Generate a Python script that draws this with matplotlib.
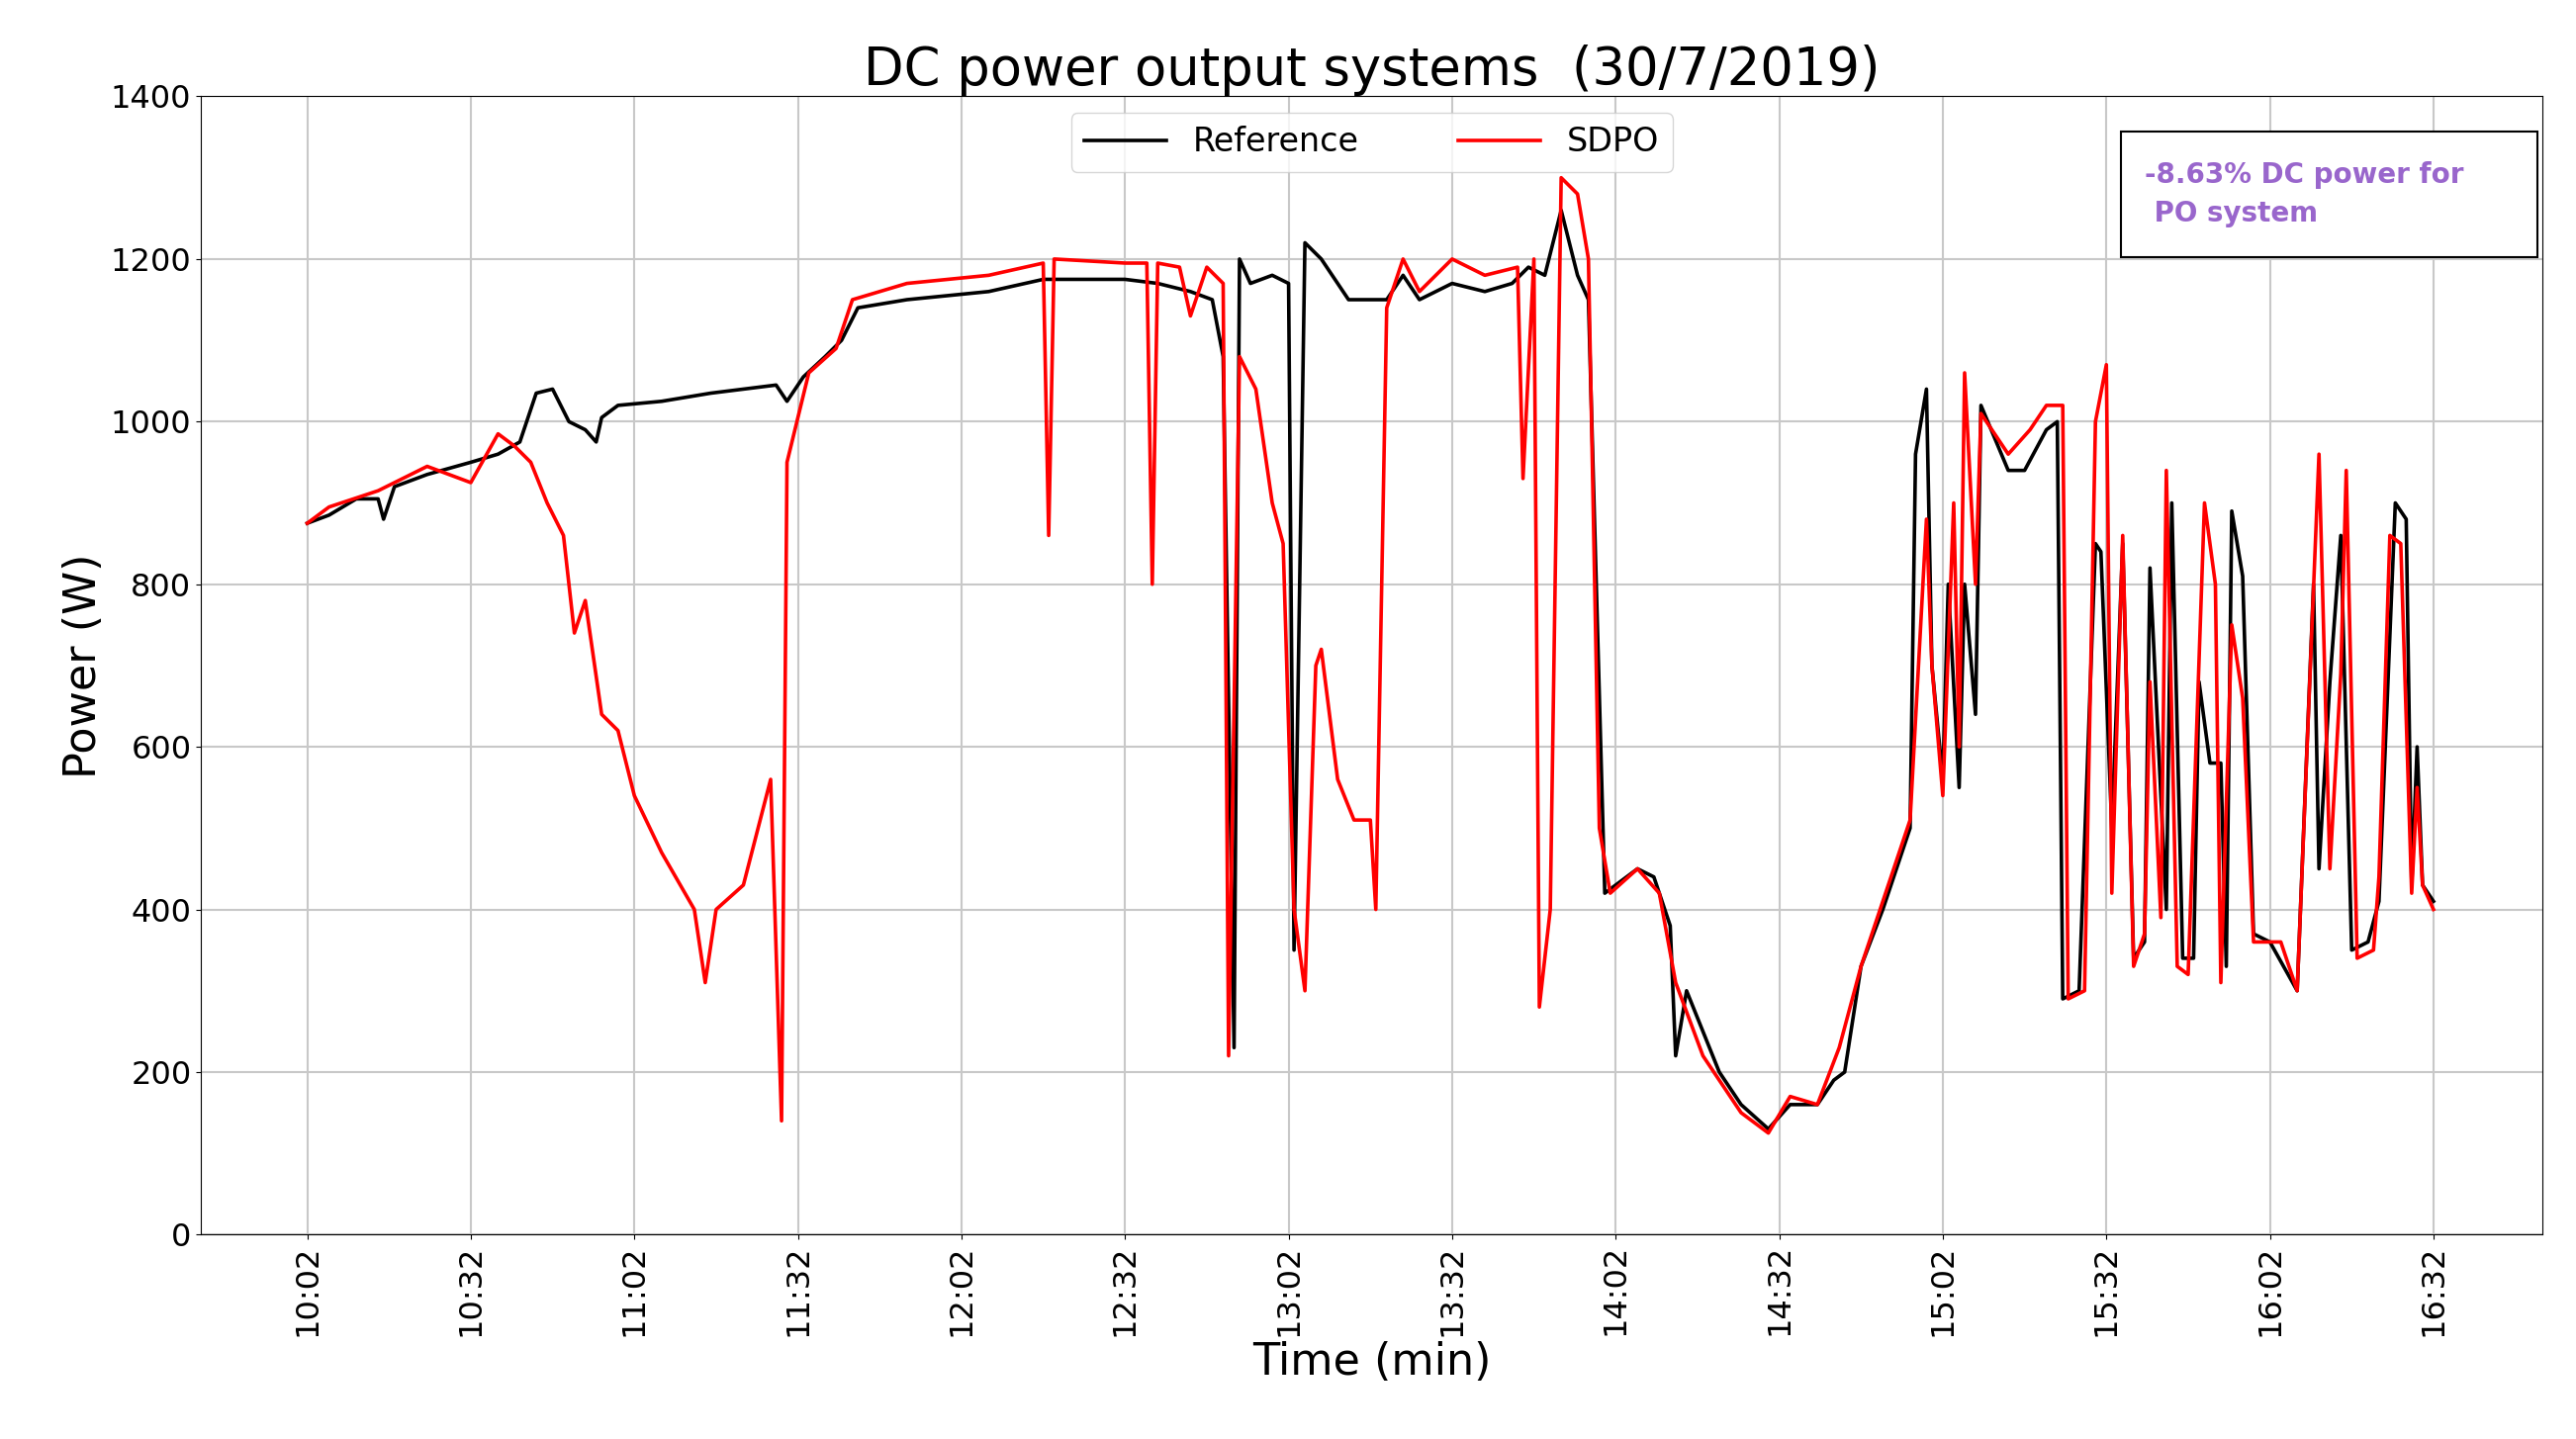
import matplotlib
matplotlib.use("Agg")
import matplotlib.pyplot as plt
from matplotlib.patches import Rectangle

# minutes after 10:02
ref_t = [0,4,9,13,14,16,22,30,35,39,42,45,48,51,53,54,57,65,74,80,86,88,91,95,98,101,110,125,135,150,156,162,166,168,170,171,173,177,180,181,183,186,191,198,201,204,210,216,221,224,227,230,233,235,238,244,247,250,251,253,259,263,268,272,277,280,282,285,289,294,295,297,298,300,301,303,304,306,307,312,315,319,321,322,325,328,329,331,333,335,337,338,341,342,344,346,347,349,351,352,353,355,357,360,365,368,369,371,373,375,378,380,383,385,386,387,388,390]
ref_p = [875,885,905,905,880,920,935,950,960,975,1035,1040,1000,990,975,1005,1020,1025,1035,1040,1045,1025,1055,1080,1100,1140,1150,1160,1175,1175,1170,1160,1150,1080,230,1200,1170,1180,1170,350,1220,1200,1150,1150,1180,1150,1170,1160,1170,1190,1180,1260,1180,1150,420,450,440,380,220,300,200,160,130,160,160,190,200,330,400,500,960,1040,700,560,800,550,800,640,1020,940,940,990,1000,290,300,850,840,500,850,340,360,820,400,900,340,340,680,580,580,330,890,810,370,360,300,800,450,680,860,350,360,410,900,880,430,600,430,410]
sdpo_t = [0,4,13,22,30,35,38,41,44,47,49,51,54,57,60,65,71,73,75,80,85,87,88,92,97,100,110,125,135,136,137,150,154,155,156,160,162,165,168,169,171,174,177,179,181,183,185,186,189,192,195,196,198,201,204,210,216,222,223,225,226,228,230,233,235,237,239,244,248,251,256,263,268,272,277,281,285,289,294,297,298,300,302,303,304,306,307,312,316,319,322,323,326,328,330,331,333,335,337,338,340,341,343,345,348,350,351,353,355,357,362,365,369,371,373,374,376,379,380,382,384,386,387,388,390]
sdpo_p = [875,895,915,945,925,985,970,950,900,860,740,780,640,620,540,470,400,310,400,430,560,140,950,1060,1090,1150,1170,1180,1195,860,1200,1195,1195,800,1195,1190,1130,1190,1170,220,1080,1040,900,850,400,300,700,720,560,510,510,400,1140,1200,1160,1200,1180,1190,930,1200,280,400,1300,1280,1200,500,420,450,420,310,220,150,125,170,160,230,330,410,510,880,700,540,900,600,1060,800,1010,960,990,1020,1020,290,300,1000,1070,420,860,330,370,680,390,940,330,320,900,800,310,750,660,360,360,300,960,450,690,940,340,350,440,860,850,420,550,430,400]
tick_labels = ["10:02","10:32","11:02","11:32","12:02","12:32","13:02","13:32","14:02","14:32","15:02","15:32","16:02","16:32"]
tick_pos = [30*i for i in range(len(tick_labels))]

fig = plt.figure(figsize=(26.04, 14.55), dpi=100)
ax = fig.add_axes([0.078, 0.142, 0.909, 0.791])
ax.plot(ref_t, ref_p, color="black", lw=2.6, label="Reference")
ax.plot(sdpo_t, sdpo_p, color="red", lw=2.6, label="SDPO")
ax.set_xlim(-19.5, 410)
ax.set_ylim(0, 1400)
ax.set_xticks(tick_pos)
ax.set_xticklabels(tick_labels, rotation=90, fontsize=23)
ax.tick_params(axis="y", labelsize=23)
ax.grid(True, color="#c8c8c8", lw=1.5)
ax.set_title("DC power output systems  (30/7/2019)", fontsize=38)
ax.set_xlabel("Time (min)", fontsize=32, labelpad=4)
ax.set_ylabel("Power (W)", fontsize=32)
ax.legend(loc="upper center", ncol=2, fontsize=24, bbox_to_anchor=(0.5, 1.0), handlelength=2.5, columnspacing=3)
ax.add_patch(Rectangle((0.82, 0.859), 0.178, 0.11, transform=ax.transAxes,
                       facecolor="white", edgecolor="black", lw=1.5, zorder=5))
ax.text(0.83, 0.914, "-8.63% DC power for\n PO system", transform=ax.transAxes, fontsize=20,
        color="#9966cc", fontweight="bold", ha="left", va="center", linespacing=1.5, zorder=6)
fig.savefig("out.png", dpi=100)
